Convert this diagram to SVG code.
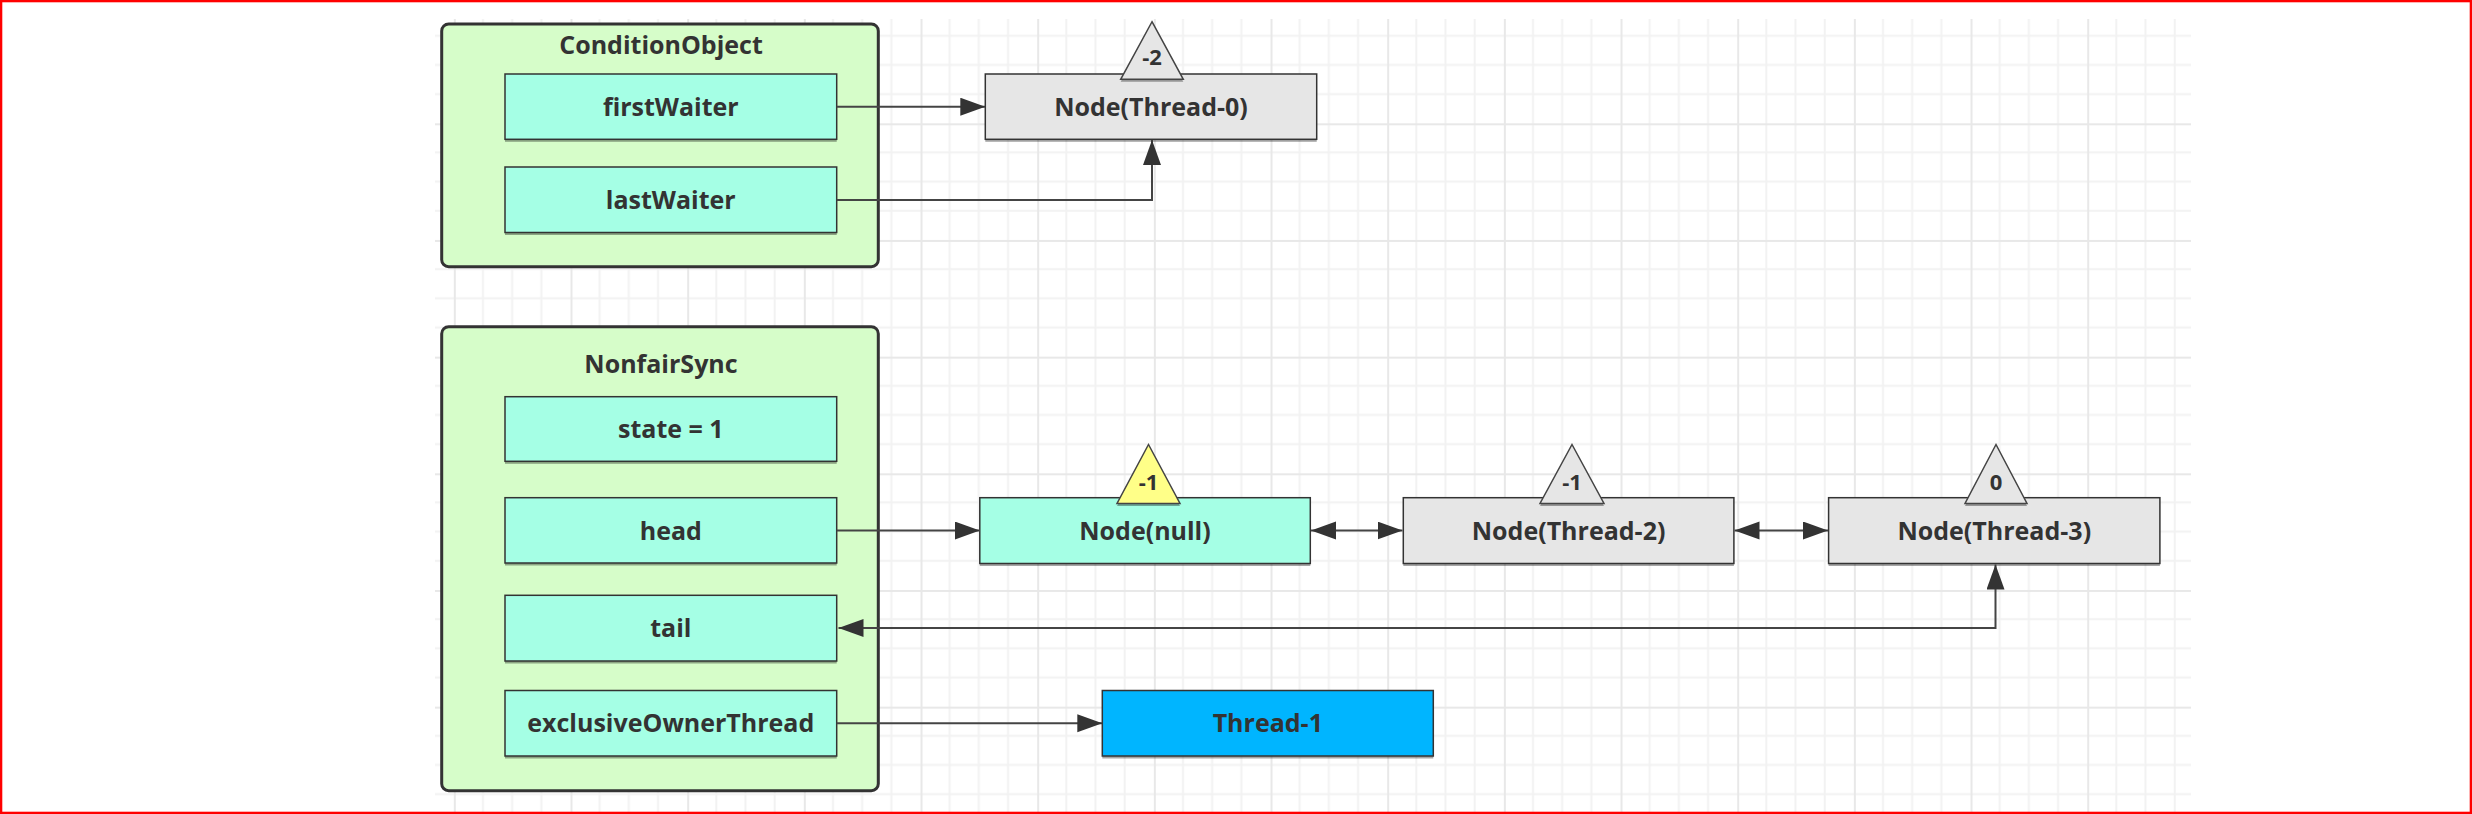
<svg xmlns="http://www.w3.org/2000/svg" width="2472" height="814" viewBox="0 0 2472 814">
<style>
.t{font-family:"Open Sans","Noto Sans","Liberation Sans",sans-serif;font-weight:700;font-size:25px;fill:#333;text-anchor:middle}
.s{font-size:22px}
.cont{fill:#d6fdc9;stroke:#333;stroke-width:3}
.fld{fill:#a5ffe5;stroke:#333;stroke-width:1.5}
.gray{fill:#e6e6e6;stroke:#333;stroke-width:1.5}
.blue{fill:#00b5ff;stroke:#333;stroke-width:1.5}
.sh{fill:#000;opacity:0.35}
.tri{stroke:#444;stroke-width:1.5;stroke-linejoin:miter}
.ln{fill:none;stroke:#444;stroke-width:2}
</style>
<defs>
<marker id="ah" markerUnits="userSpaceOnUse" markerWidth="26" markerHeight="20" refX="25" refY="9" orient="auto-start-reverse">
<path d="M0,0 L25,9 L0,18 Z" fill="#333"/>
</marker>
<pattern id="grid" patternUnits="userSpaceOnUse" x="570.5" y="123.3" width="116.67" height="116.67">
<rect x="0" y="28.17" width="116.67" height="2" fill="#f2f2f2"/>
<rect x="0" y="57.33" width="116.67" height="2" fill="#f2f2f2"/>
<rect x="0" y="86.5" width="116.67" height="2" fill="#f2f2f2"/>
<rect x="28.17" y="0" width="2" height="116.67" fill="#f2f2f2"/>
<rect x="57.33" y="0" width="2" height="116.67" fill="#f2f2f2"/>
<rect x="86.5" y="0" width="2" height="116.67" fill="#f2f2f2"/>
<rect x="0" y="0" width="116.67" height="2" fill="#e8e8e8"/>
<rect x="0" y="0" width="2" height="116.67" fill="#e8e8e8"/>
</pattern>
</defs>
<rect x="0" y="0" width="2472" height="814" fill="#fff"/>
<rect x="435" y="19" width="1756" height="795" fill="url(#grid)"/>
<rect x="1.15" y="1.15" width="2469.7" height="811.7" fill="none" stroke="#ff0000" stroke-width="2.3"/>

<g id="ConditionObject">
<rect class="cont" x="441.7" y="24" width="436.6" height="242.7" rx="7"/>
<text class="t" x="661" y="54">ConditionObject</text>
</g>
<g id="firstWaiter">
<rect class="sh" x="505" y="76.5" width="331.7" height="65.3"/>
<rect class="fld" x="505" y="74" width="331.7" height="65.3"/>
<text class="t" x="670.8" y="116">firstWaiter</text>
</g>
<g id="lastWaiter">
<rect class="sh" x="505" y="169.5" width="331.7" height="65.5"/>
<rect class="fld" x="505" y="167" width="331.7" height="65.5"/>
<text class="t" x="670.8" y="209">lastWaiter</text>
</g>

<g id="NonfairSync">
<rect class="cont" x="441.7" y="326.7" width="436.6" height="464" rx="7"/>
<text class="t" x="661" y="372.5">NonfairSync</text>
</g>
<g id="state">
<rect class="sh" x="505" y="399.2" width="331.7" height="64.6"/>
<rect class="fld" x="505" y="396.7" width="331.7" height="64.6"/>
<text class="t" x="670.8" y="438">state = 1</text>
</g>
<g id="head">
<rect class="sh" x="505" y="500.2" width="331.7" height="65.3"/>
<rect class="fld" x="505" y="497.7" width="331.7" height="65.3"/>
<text class="t" x="670.8" y="539.5">head</text>
</g>
<g id="tail">
<rect class="sh" x="505" y="597.8" width="331.7" height="65.7"/>
<rect class="fld" x="505" y="595.3" width="331.7" height="65.7"/>
<text class="t" x="670.8" y="637">tail</text>
</g>
<g id="exclusiveOwnerThread">
<rect class="sh" x="505" y="693" width="331.7" height="65.5"/>
<rect class="fld" x="505" y="690.5" width="331.7" height="65.5"/>
<text class="t" x="670.8" y="732">exclusiveOwnerThread</text>
</g>

<g id="NodeThread0">
<rect class="sh" x="985.3" y="76.5" width="331.4" height="65.3"/>
<rect class="gray" x="985.3" y="74" width="331.4" height="65.3"/>
<text class="t" x="1151" y="116">Node(Thread-0)</text>
<polygon class="sh" points="1152,24.2 1183.3,81.8 1120.7,81.8"/>
<polygon class="tri" fill="#e6e6e6" points="1152,21.7 1183.3,79.3 1120.7,79.3"/>
<text class="t s" x="1152" y="65">-2</text>
</g>

<g id="NodeNull">
<rect class="sh" x="979.8" y="500.2" width="330.5" height="65.8"/>
<rect class="fld" x="979.8" y="497.7" width="330.5" height="65.8"/>
<text class="t" x="1145" y="540">Node(null)</text>
<polygon class="sh" points="1148.5,447 1180,506 1117,506"/>
<polygon class="tri" fill="#ffff88" points="1148.5,444.5 1180,503.5 1117,503.5"/>
<text class="t s" x="1148.5" y="490">-1</text>
</g>

<g id="NodeThread2">
<rect class="sh" x="1403.3" y="500.2" width="330.6" height="65.8"/>
<rect class="gray" x="1403.3" y="497.7" width="330.6" height="65.8"/>
<text class="t" x="1568.6" y="540">Node(Thread-2)</text>
<polygon class="sh" points="1572,447 1604,506 1540,506"/>
<polygon class="tri" fill="#e6e6e6" points="1572,444.5 1604,503.5 1540,503.5"/>
<text class="t s" x="1572" y="490">-1</text>
</g>

<g id="NodeThread3">
<rect class="sh" x="1828.6" y="500.2" width="331.3" height="65.8"/>
<rect class="gray" x="1828.6" y="497.7" width="331.3" height="65.8"/>
<text class="t" x="1994.3" y="540">Node(Thread-3)</text>
<polygon class="sh" points="1996,447 2027,506 1965,506"/>
<polygon class="tri" fill="#e6e6e6" points="1996,444.5 2027,503.5 1965,503.5"/>
<text class="t s" x="1996" y="490">0</text>
</g>

<g id="Thread1">
<rect class="sh" x="1102.3" y="693" width="331" height="65.5"/>
<rect class="blue" x="1102.3" y="690.5" width="331" height="65.5"/>
<text class="t" x="1267.8" y="732">Thread-1</text>
</g>

<g id="connectors">
<path class="ln" d="M836.7,106.7 L985.3,106.7" marker-end="url(#ah)"/>
<path class="ln" d="M836.7,200 L1152,200 L1152,140" marker-end="url(#ah)"/>
<path class="ln" d="M836.7,530.5 L979.8,530.5" marker-end="url(#ah)"/>
<path class="ln" d="M1311,530.5 L1402.5,530.5" marker-start="url(#ah)" marker-end="url(#ah)"/>
<path class="ln" d="M1734.5,530.5 L1828,530.5" marker-start="url(#ah)" marker-end="url(#ah)"/>
<path class="ln" d="M838.5,628 L1995.5,628 L1995.5,564.5" marker-start="url(#ah)" marker-end="url(#ah)"/>
<path class="ln" d="M836.7,723.3 L1102.3,723.3" marker-end="url(#ah)"/>
</g>
</svg>
